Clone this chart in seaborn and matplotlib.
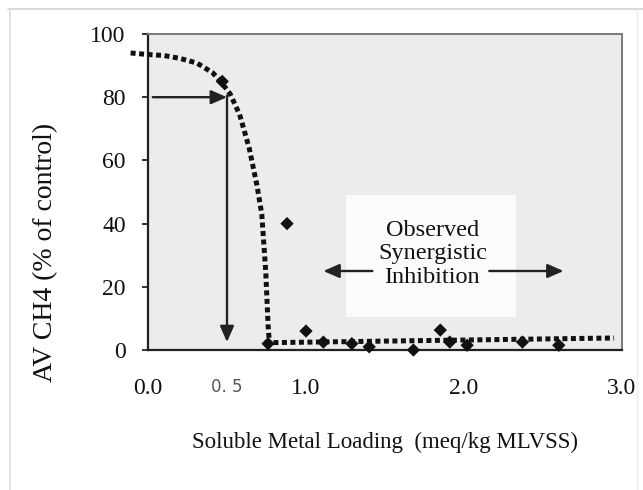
import matplotlib
matplotlib.use("Agg")
import matplotlib.pyplot as plt
import matplotlib.patches as mpatches
import seaborn as sns
import pandas as pd

# Measured methane activity vs soluble metal loading
obs_x = [0.47, 0.88, 0.76, 1.00, 1.11, 1.29, 1.40, 1.68, 1.85, 1.91, 2.02, 2.37, 2.60]
obs_y = [85.0, 40.0, 2.0, 6.0, 2.5, 2.0, 1.0, 0.0, 6.3, 2.5, 1.5, 2.5, 1.5]

# Hand-fitted inhibition curve
curve_x = [-0.11, 0.0, 0.10, 0.20, 0.31, 0.41, 0.46, 0.52, 0.58, 0.64, 0.69, 0.72, 0.745, 0.76, 0.768]
curve_y = [94.0, 93.5, 93.2, 92.3, 90.8, 87.7, 85.0, 81.0, 74.5, 64.0, 52.0, 43.0, 25.0, 8.0, 2.3]

# Residual activity trend beyond the threshold
trend_x = [0.74, 2.95]
trend_y = [2.3, 3.8]

x_ticks = [0.0, 0.5, 1.0, 2.0, 3.0]
x_tick_labels = ["0.0", "0. 5", "1.0", "2.0", "3.0"]
y_ticks = [0, 20, 40, 60, 80, 100]

sns.set_theme(style="white")
plt.rcParams["font.family"] = ["Liberation Serif", "DejaVu Serif"]

fig = plt.figure(figsize=(6.43, 4.90), dpi=100)
ax = fig.add_axes([148 / 643, 1 - 350 / 490, (622 - 148) / 643, (350 - 34) / 490])
ax.set_facecolor("#ececec")

# light panel behind the annotation text
ax.add_patch(mpatches.Rectangle((1.25, 10.5), 1.08, 38.5, facecolor="#fbfbfb",
                                edgecolor="none", zorder=0))

dot_style = dict(color="#111111", lw=3.6, linestyle=(0, (1.0, 0.7)),
                 dash_capstyle="butt")

curve_df = pd.DataFrame({"x": curve_x, "y": curve_y})
sns.lineplot(data=curve_df, x="x", y="y", sort=False, estimator=None, ax=ax,
             clip_on=False, zorder=3, **dot_style)
trend_df = pd.DataFrame({"x": trend_x, "y": trend_y})
sns.lineplot(data=trend_df, x="x", y="y", sort=False, estimator=None, ax=ax,
             clip_on=False, zorder=3, **dot_style)

obs_df = pd.DataFrame({"x": obs_x, "y": obs_y})
sns.scatterplot(data=obs_df, x="x", y="y", marker="D", s=46, color="#111111",
                edgecolor="none", ax=ax, clip_on=False, zorder=4)

# 80 % activity read-off arrows
arrow_kw = dict(arrowstyle="-|>,head_length=0.8,head_width=0.35", color="#222222",
                lw=1.7, shrinkA=0, shrinkB=0)
ax.annotate("", xy=(0.50, 80), xytext=(0.03, 80), arrowprops=arrow_kw)
ax.annotate("", xy=(0.50, 2.5), xytext=(0.50, 80.5), arrowprops=arrow_kw)

# synergistic inhibition range
ax.text(1.80, 30.5, "Observed\nSynergistic\nInhibition", ha="center", va="center",
        fontsize=17.5, linespacing=1.15, color="#111111")
ax.annotate("", xy=(1.11, 25), xytext=(1.42, 25), arrowprops=arrow_kw)
ax.annotate("", xy=(2.63, 25), xytext=(2.16, 25), arrowprops=arrow_kw)

ax.set_xlim(0, 3.0)
ax.set_ylim(0, 100)
ax.set_xticks(x_ticks)
ax.set_xticklabels(x_tick_labels)
ax.set_yticks(y_ticks)
ax.tick_params(axis="x", length=0, pad=20, labelsize=17, colors="#111111")
ax.tick_params(axis="y", direction="out", length=4, width=1.2, pad=12,
               labelsize=17, colors="#111111", left=True)
for lbl in ax.get_xticklabels():
    if lbl.get_text().startswith("0. 5"):
        lbl.set_fontsize(12)
        lbl.set_color("#555555")
        lbl.set_fontfamily("DejaVu Sans")

ax.set_xlabel("Soluble Metal Loading  (meq/kg MLVSS)", fontsize=16.5, labelpad=24,
              color="#111111")
ax.set_ylabel("AV CH4 (% of control)", fontsize=20, color="#111111")
ax.yaxis.set_label_coords(-0.19, 0.31)

for side in ("left", "bottom"):
    ax.spines[side].set_color("#222222")
    ax.spines[side].set_linewidth(1.6)
for side in ("top", "right"):
    ax.spines[side].set_color("#7a7a7a")
    ax.spines[side].set_linewidth(1.4)

# outer frame of the figure panel
fig.add_artist(plt.Line2D([8 / 643, 1.0], [1 - 9 / 490, 1 - 9 / 490],
                          transform=fig.transFigure, color="#d2d2d2", lw=1.2))
fig.add_artist(plt.Line2D([10 / 643, 10 / 643], [0, 1 - 9 / 490],
                          transform=fig.transFigure, color="#dcdcdc", lw=1.2))
fig.add_artist(plt.Line2D([637 / 643, 637 / 643], [0, 1 - 9 / 490],
                          transform=fig.transFigure, color="#ececec", lw=1.0))

fig.savefig("out.png", dpi=100, facecolor="white")
